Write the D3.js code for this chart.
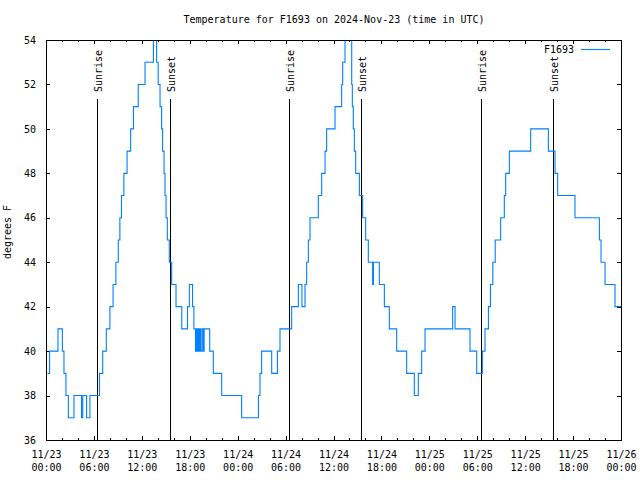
<!DOCTYPE html>
<html><head><meta charset="utf-8">
<script src="https://cdn.jsdelivr.net/npm/d3@7"></script>
<style>
body{margin:0;background:#fff}
text{font-family:"DejaVu Sans Mono","Liberation Mono",monospace;font-size:10px;fill:#000}
</style>
</head><body><svg id="c" width="640" height="480"></svg>
<script>
// ---- data (hours since 2024-11-23 00:00 UTC, temperature in F) ----
const hours = [0.2,0.45,1.25,1.5,1.8,2.05,2.25,2.5,2.8,3.3,3.5,4.34,4.45,4.6,4.98,5.08,5.3,5.5,
  6.5,6.7,7.1,7.55,8.0,8.4,8.75,9.05,9.25,9.45,9.75,10.15,10.6,10.95,11.55,12.4,13.3,13.45,13.65,
  13.85,14.05,14.28,14.48,14.6,14.78,14.9,15.03,15.19,15.44,15.74,16.28,16.86,17.0,17.6,17.72,17.95,
  18.15,18.35,18.52,18.72,18.85,18.95,19.07,19.16,19.28,19.37,19.55,19.7,19.8,20.3,20.5,20.75,20.95,
  21.8,22.0,24.3,24.5,26.4,26.6,26.8,27.0,28.1,28.26,28.88,28.98,29.3,30.55,30.76,31.3,31.6,31.8,
  32.05,32.2,32.43,32.64,32.85,33.06,33.89,34.1,34.39,34.52,34.81,34.94,35.14,36.06,36.19,36.9,
  37.02,37.15,37.44,37.57,37.98,38.15,38.28,38.36,38.48,38.61,38.78,39.24,39.65,40.03,40.36,40.78,
  40.9,41.0,41.49,41.74,42.24,42.37,42.78,42.99,43.7,43.91,44.95,45.16,46.0,46.12,46.5,46.62,47.04,
  47.46,50.8,50.92,51.09,51.22,52.88,53.09,53.72,53.93,54.43,54.64,54.85,54.97,55.26,55.4,55.65,
  55.95,56.25,56.77,56.93,57.27,57.39,57.56,58.02,60.31,60.69,62.78,62.9,63.53,63.74,64.07,66.12,
  66.24,69.04,69.29,69.5,69.87,70.0,71.13,71.25,72.0];
const temps = [39,40,40,41,41,40,39,38,37,37,38,38,37,38,38,37,37,38,
  38,39,40,41,42,43,44,45,46,47,48,49,50,51,52,53,53,54,54,
  53,52,51,50,49,48,47,46,45,44,43,42,42,41,41,42,43,
  43,42,41,40,41,40,41,40,41,40,41,40,41,41,40,40,39,
  39,38,38,37,37,38,39,40,40,39,39,40,41,41,42,42,43,43,
  42,42,43,44,45,46,46,47,47,48,48,49,50,50,51,51,
  52,53,54,55,55,54,52,51,50,49,48,47,46,45,44,44,
  43,44,44,43,43,42,42,41,41,40,40,39,39,38,38,39,40,
  41,41,42,42,41,41,40,40,39,39,40,40,41,41,42,43,
  44,45,45,46,46,47,48,49,49,50,50,49,49,48,47,47,
  46,46,45,44,44,43,43,42,42];
const seriesName = "F1693";
const xTickHours = [0,6,12,18,24,30,36,42,48,54,60,66,72];
const xTickDates = ["11/23","11/23","11/23","11/23","11/24","11/24","11/24","11/24","11/25","11/25","11/25","11/25","11/26"];
const xTickTimes = ["00:00","06:00","12:00","18:00","00:00","06:00","12:00","18:00","00:00","06:00","12:00","18:00","00:00"];
const xMinorHours = d3.range(0,73,2);
const yTicks = [36,38,40,42,44,46,48,50,52,54];
const sunHours = [6.42,15.53,30.43,39.47,54.5,63.51];
const sunLabels = ["Sunrise","Sunset","Sunrise","Sunset","Sunrise","Sunset"];
const titleText = "Temperature for F1693 on 2024-Nov-23 (time in UTC)";
const yLabelText = "degrees F";

// ---- layout ----
const L=46,R=621,T=40,B=440;
const svg = d3.select("#c");
const x = d3.scaleLinear().domain([0,72]).range([L,R]);
const y = d3.scaleLinear().domain([36,54]).range([B,T]);
const lineColor = "#0080ff";

svg.append("defs").append("clipPath").attr("id","clip")
  .append("rect").attr("x",L).attr("y",T).attr("width",R-L).attr("height",B-T);

// axes (ticks inward)
function styleAxis(g){ g.select(".domain").remove(); g.selectAll("line").attr("stroke","#000").attr("shape-rendering","crispEdges"); }
svg.append("g").attr("transform",`translate(0,${B})`)
  .call(d3.axisBottom(x).tickValues(xMinorHours).tickSize(-2).tickFormat("")).call(styleAxis);
svg.append("g").attr("transform",`translate(0,${T})`)
  .call(d3.axisTop(x).tickValues(xMinorHours).tickSize(-2).tickFormat("")).call(styleAxis);
svg.append("g").attr("transform",`translate(0,${T})`)
  .call(d3.axisTop(x).tickValues(xTickHours).tickSize(-4).tickFormat("")).call(styleAxis);
const xg = svg.append("g").attr("transform",`translate(0,${B})`)
  .call(d3.axisBottom(x).tickValues(xTickHours).tickSize(-4).tickPadding(11)
    .tickFormat((d,i)=>xTickDates[i])).call(styleAxis);
xg.selectAll("text").attr("font-family",null).attr("font-size",null).each(function(d,i){
  d3.select(this).append("tspan").attr("x",0).attr("dy","13").text(xTickTimes[i]);
});
svg.append("g").attr("transform",`translate(${L},0)`)
  .call(d3.axisLeft(y).tickValues(yTicks).tickSize(-4).tickPadding(10).tickFormat(d3.format("d")))
  .call(styleAxis).selectAll("text").attr("font-family",null).attr("font-size",null).attr("dy","0.32em");
svg.append("g").attr("transform",`translate(${R},0)`)
  .call(d3.axisRight(y).tickValues(yTicks).tickSize(-4).tickFormat("")).call(styleAxis);
svg.selectAll("g text").attr("fill","#000");

// sunrise / sunset lines
const sg = svg.append("g");
sunHours.forEach((h,i)=>{
  const sx = Math.round(x(h))+0.5;
  sg.append("line").attr("x1",sx).attr("x2",sx).attr("y1",99).attr("y2",B)
    .attr("stroke","#000").attr("stroke-width",1).attr("shape-rendering","crispEdges");
  sg.append("text").attr("transform",`translate(${sx+4},92) rotate(-90)`)
    .attr("text-anchor","start").text(sunLabels[i]);
});

// data line (stepped readings)
const line = d3.line().curve(d3.curveStepAfter).x((d,i)=>x(hours[i])).y((d,i)=>y(temps[i]));
svg.append("path").datum(temps).attr("clip-path","url(#clip)")
  .attr("d",line).attr("fill","none").attr("stroke",lineColor).attr("stroke-width",1.1);

// frame
svg.append("rect").attr("x",L+0.5).attr("y",T+0.5).attr("width",R-L).attr("height",B-T)
  .attr("fill","none").attr("stroke","#000").attr("stroke-width",1).attr("shape-rendering","crispEdges");

// legend
svg.append("text").attr("x",574).attr("y",53).attr("text-anchor","end").text(seriesName);
svg.append("line").attr("x1",581).attr("x2",610).attr("y1",49.5).attr("y2",49.5)
  .attr("stroke",lineColor).attr("stroke-width",1.1);

// title & y label
svg.append("text").attr("x",334).attr("y",23).attr("text-anchor","middle").text(titleText);
svg.append("text").attr("transform","translate(11,232) rotate(-90)").attr("text-anchor","middle").text(yLabelText);
</script></body></html>
